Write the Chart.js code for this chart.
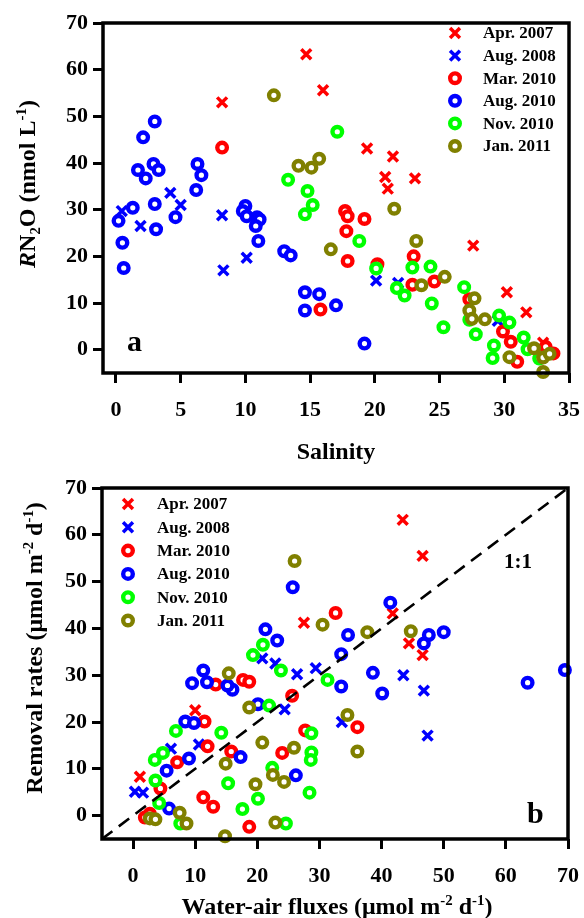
<!DOCTYPE html>
<html>
<head>
<meta charset="utf-8">
<script src="https://cdn.jsdelivr.net/npm/chart.js@4.4.0/dist/chart.umd.min.js"></script>
<style>
    body { margin: 0; background: #fff; }
    #wrap { position: relative; width: 584px; height: 918px; overflow: hidden; }
    canvas { position: absolute; left: 0; }
    #chartA { top: 0; }
    #chartB { top: 460px; }
</style>
</head>
<body>
<div id="wrap">
    <canvas id="chartA" width="584" height="475"></canvas>
    <canvas id="chartB" width="584" height="458"></canvas>
</div>
<script>
//Series

var seriesNames = ["Apr. 2007", "Aug. 2008", "Mar. 2010", "Aug. 2010", "Nov. 2010", "Jan. 2011"];
var seriesColors = ["#ff0000", "#0000ff", "#ff0000", "#0000ff", "#00ff00", "#808000"];
var seriesMarks = ["crossRot", "crossRot", "circle", "circle", "circle", "circle"];
var seriesOrder = [6, 5, 4, 3, 2, 1];

//Panel a: salinity vs RN2O

var apr07Sal = [8.2, 14.7, 16.0, 19.4, 21.4, 20.8, 21.0, 23.1, 27.6, 30.2, 31.7, 33.0];
var apr07RN2O = [53.0, 63.3, 55.6, 43.1, 41.4, 37.0, 34.5, 36.7, 22.3, 12.3, 8.0, 1.5];

var aug08Sal = [0.45, 1.9, 4.2, 5.0, 8.2, 8.3, 10.1, 20.1, 21.8, 29.5];
var aug08RN2O = [29.7, 26.5, 33.6, 31.0, 28.8, 17.0, 19.7, 14.8, 14.3, 6.2];

var mar10Sal = [8.2, 17.7, 17.9, 19.2, 17.8, 17.9, 15.8, 20.2, 23.0, 24.6, 22.9, 27.3, 29.9, 30.5, 31.0, 33.2, 33.8];
var mar10RN2O = [43.3, 29.7, 28.6, 28.0, 25.4, 19.0, 8.6, 18.3, 20.0, 14.6, 13.9, 10.8, 3.9, 1.7, -2.6, 0.6, -0.8];

var aug10Sal = [2.1, 3.0, 1.7, 2.3, 2.9, 3.3, 6.3, 6.6, 6.2, 3.0, 1.3, 4.6, 0.2, 0.5, 0.6, 3.1, 10.0, 9.8, 10.1, 10.9, 11.1, 10.8, 11.0, 13.0, 13.5, 14.6, 15.7, 14.6, 17.0, 19.2];
var aug10RN2O = [45.5, 48.9, 38.5, 36.7, 39.8, 38.5, 39.8, 37.4, 34.2, 31.2, 30.4, 28.4, 27.6, 22.9, 17.5, 25.8, 30.8, 29.7, 28.6, 28.4, 27.9, 26.5, 23.3, 21.1, 20.2, 12.3, 11.9, 8.4, 9.5, 1.3];

var nov10Sal = [17.1, 13.3, 14.8, 15.2, 14.6, 18.8, 20.1, 21.7, 22.3, 22.9, 24.3, 24.4, 25.3, 26.9, 27.8, 27.3, 29.6, 30.4, 29.2, 29.1, 31.5, 31.8, 32.7];
var nov10RN2O = [46.7, 36.4, 34.0, 31.0, 29.0, 23.3, 17.4, 13.2, 11.6, 17.6, 17.8, 9.9, 4.8, 13.4, 3.3, 6.4, 7.3, 5.8, 0.9, -1.8, 2.6, 0.1, -1.9];

var jan11Sal = [12.2, 14.1, 15.1, 15.7, 21.5, 16.6, 23.2, 23.6, 25.4, 27.7, 27.3, 27.5, 28.5, 30.4, 32.3, 33.0, 33.0, 33.5];
var jan11RN2O = [54.5, 39.4, 39.0, 40.9, 30.2, 21.5, 23.3, 13.8, 15.6, 11.0, 8.4, 6.6, 6.5, -1.6, 0.3, -1.7, -4.8, -0.9];

//Panel b: water-air fluxes vs removal rates

var apr07Flux = [43.4, 46.6, 27.5, 41.8, 44.4, 46.6, 10.0, 1.1];
var apr07Rem = [63.2, 55.5, 41.2, 43.2, 36.8, 34.3, 22.5, 8.3];

var aug08Flux = [0.3, 1.6, 6.1, 10.6, 20.8, 22.9, 26.4, 29.4, 24.4, 33.6, 43.5, 46.8, 47.4];
var aug08Rem = [5.1, 4.9, 14.3, 15.2, 33.6, 32.5, 30.2, 31.5, 22.7, 20.0, 30.0, 26.7, 17.1];

var mar10Flux = [32.6, 25.6, 36.1, 27.7, 24.0, 17.7, 18.7, 13.3, 11.5, 12.0, 7.1, 15.8, 11.3, 12.9, 18.7, 4.4, 1.9, 2.7];
var mar10Rem = [43.3, 25.6, 18.9, 18.2, 13.4, 29.0, 28.6, 28.0, 20.1, 14.8, 11.4, 13.7, 3.9, 1.9, -2.4, 5.8, -0.4, 0.4];

var aug10Flux = [25.7, 41.4, 34.6, 33.5, 47.6, 46.8, 50.0, 38.6, 69.5, 63.5, 21.3, 23.2, 33.5, 40.1, 11.3, 9.5, 11.9, 16.0, 15.2, 8.4, 9.8, 9.0, 5.4, 5.8, 17.3, 20.1, 26.2];
var aug10Rem = [48.8, 45.5, 38.6, 34.5, 38.6, 36.8, 39.2, 30.5, 31.1, 28.4, 39.8, 37.4, 27.6, 26.1, 31.0, 28.3, 28.5, 26.9, 27.8, 20.1, 19.8, 12.2, 9.6, 1.5, 12.5, 23.8, 8.6];

var nov10Flux = [20.9, 19.3, 23.8, 6.9, 14.2, 4.8, 3.5, 3.6, 4.2, 15.3, 20.1, 17.6, 22.4, 21.9, 7.6, 24.6, 28.7, 28.7, 28.6, 28.4, 31.3];
var nov10Rem = [36.5, 34.3, 31.0, 18.1, 17.7, 13.4, 11.9, 7.5, 2.7, 6.9, 3.6, 1.4, 10.2, 23.5, -1.7, -1.7, 17.6, 13.5, 11.9, 4.9, 29.0];

var jan11Flux = [26.0, 30.5, 37.7, 44.7, 15.4, 18.7, 20.8, 14.9, 19.7, 22.5, 7.5, 8.6, 2.7, 3.6, 14.8, 22.9, 34.5, 36.1, 25.9, 24.3];
var jan11Rem = [54.4, 40.8, 39.2, 39.4, 30.4, 23.1, 15.6, 11.1, 6.7, 8.7, 0.6, -1.7, -0.6, -0.8, -4.4, -1.5, 21.5, 13.7, 14.5, 7.2];

//1:1 reference line ends
var oneToOne = [-5, 70];

//Ticks
var salTicks = [0, 5, 10, 15, 20, 25, 30, 35];
var fluxTicks = [0, 10, 20, 30, 40, 50, 60, 70];
var rateTicks = [0, 10, 20, 30, 40, 50, 60, 70];

var serif = "'Liberation Serif', 'Times New Roman', serif";
var tickFont = { family: serif, size: 22, weight: "bold" };

function zip(xs, ys) {
    return xs.map(function(x, i) {
        return { x: x, y: ys[i] };
    });
}

function makeSets(xsList, ysList) {
    return seriesNames.map(function(name, i) {
        var isCross = seriesMarks[i] === "crossRot";
        return {
            type: "scatter",
            label: name,
            data: zip(xsList[i], ysList[i]),
            order: seriesOrder[i],
            pointStyle: seriesMarks[i],
            pointRadius: isCross ? 7 : 4.8,
            pointBorderWidth: isCross ? 3.5 : 4.4,
            borderColor: seriesColors[i],
            backgroundColor: isCross ? seriesColors[i] : "#ffffff",
            clip: 10
        };
    });
}

// little marker drawer for the legend
function drawMark(ctx, style, color, x, y) {
    ctx.save();
    ctx.strokeStyle = color;
    if (style === "crossRot") {
        var d = 7 * Math.SQRT1_2;
        ctx.lineWidth = 3.5;
        ctx.beginPath();
        ctx.moveTo(x - d, y - d); ctx.lineTo(x + d, y + d);
        ctx.moveTo(x - d, y + d); ctx.lineTo(x + d, y - d);
        ctx.stroke();
    } else {
        ctx.lineWidth = 4.4;
        ctx.fillStyle = "#fff";
        ctx.beginPath();
        ctx.arc(x, y, 4.8, 0, Math.PI * 2);
        ctx.fill();
        ctx.stroke();
    }
    ctx.restore();
}

// text with italic / sub / sup pieces, centred on x,y (baseline)
function drawRich(ctx, parts, x, y, size, rotate) {
    ctx.save();
    ctx.translate(x, y);
    if (rotate) ctx.rotate(-Math.PI / 2);
    ctx.fillStyle = "#000";
    ctx.textBaseline = "alphabetic";
    ctx.textAlign = "left";
    function fontOf(p) {
        var s = (p[1] === "sub" || p[1] === "sup") ? size * 0.62 : size;
        return (p[1] === "i" ? "italic " : "") + "bold " + s + "px " + serif;
    }
    var total = 0;
    parts.forEach(function(p) {
        ctx.font = fontOf(p);
        total += ctx.measureText(p[0]).width;
    });
    var cx = -total / 2;
    parts.forEach(function(p) {
        ctx.font = fontOf(p);
        var dy = p[1] === "sub" ? size * 0.22 : (p[1] === "sup" ? -size * 0.38 : 0);
        ctx.fillText(p[0], cx, dy);
        cx += ctx.measureText(p[0]).width;
    });
    ctx.restore();
}

function framePlugin(id) {
    return {
        id: id,
        afterDraw: function(chart) {
            var ctx = chart.ctx, a = chart.chartArea;
            ctx.save();
            ctx.strokeStyle = "#000";
            ctx.lineWidth = 3.5;
            ctx.strokeRect(a.left, a.top, a.right - a.left, a.bottom - a.top);
            ctx.restore();
        }
    };
}

function legendPlugin(id, markX, textX, y0, step) {
    return {
        id: id,
        afterDraw: function(chart) {
            var ctx = chart.ctx;
            seriesNames.forEach(function(name, i) {
                var y = y0 + i * step;
                drawMark(ctx, seriesMarks[i], seriesColors[i], markX, y);
                ctx.save();
                ctx.font = "bold 17px " + serif;
                ctx.fillStyle = "#000";
                ctx.textBaseline = "middle";
                ctx.fillText(name, textX, y + 1);
                ctx.restore();
            });
        }
    };
}

function scales(xMin, xMax, xTicks, yTicks, xHeight, yWidth) {
    var grid = {
        display: true,
        drawOnChartArea: false,
        drawTicks: true,
        tickLength: 10,
        tickWidth: 3,
        tickColor: "#000"
    };
    return {
        x: {
            type: "linear",
            position: "bottom",
            min: xMin,
            max: xMax,
            afterBuildTicks: function(s) { s.ticks = xTicks.map(function(v) { return { value: v }; }); },
            afterFit: function(s) {
                s.height = xHeight;
                s.paddingLeft = 0;
                s.paddingRight = 0;
            },
            ticks: { font: tickFont, color: "#000", padding: 14, maxRotation: 0, autoSkip: false },
            grid: grid,
            border: { display: false }
        },
        y: {
            type: "linear",
            position: "left",
            min: -5,
            max: 70,
            afterBuildTicks: function(s) { s.ticks = yTicks.map(function(v) { return { value: v }; }); },
            afterFit: function(s) {
                s.width = yWidth;
                s.paddingTop = 0;
                s.paddingBottom = 0;
            },
            ticks: { font: tickFont, color: "#000", padding: 5, autoSkip: false },
            grid: grid,
            border: { display: false }
        }
    };
}

//Panel a

var chartA = new Chart(document.getElementById("chartA"), {
    type: "scatter",
    data: {
        datasets: makeSets(
            [apr07Sal, aug08Sal, mar10Sal, aug10Sal, nov10Sal, jan11Sal],
            [apr07RN2O, aug08RN2O, mar10RN2O, aug10RN2O, nov10RN2O, jan11RN2O]
        )
    },
    options: {
        responsive: false,
        animation: false,
        events: [],
        layout: { padding: { top: 23, right: 15, left: 0, bottom: 0 } },
        plugins: { legend: { display: false }, tooltip: { enabled: false } },
        scales: scales(-1, 35, salTicks, rateTicks, 475 - 373, 103)
    },
    plugins: [
        framePlugin("frameA"),
        legendPlugin("legendA", 455, 483, 33, 22.6),
        {
            id: "textA",
            afterDraw: function(chart) {
                var ctx = chart.ctx;
                drawRich(ctx, [["Salinity", ""]], 336, 459, 24, false);
                drawRich(ctx, [["R", "i"], ["N", ""], ["2", "sub"], ["O (nmol L", ""], ["-1", "sup"], [")", ""]], 35, 184, 24, true);
                ctx.save();
                ctx.font = "bold 30px " + serif;
                ctx.fillStyle = "#000";
                ctx.fillText("a", 127, 351);
                ctx.restore();
            }
        }
    ]
});

//Panel b

var setsB = makeSets(
    [apr07Flux, aug08Flux, mar10Flux, aug10Flux, nov10Flux, jan11Flux],
    [apr07Rem, aug08Rem, mar10Rem, aug10Rem, nov10Rem, jan11Rem]
);
setsB.push({
    type: "line",
    label: "1:1",
    data: zip(oneToOne, oneToOne),
    order: 0,
    borderColor: "#000",
    borderWidth: 2.6,
    borderDash: [13, 8],
    pointRadius: 0,
    fill: false
});

var chartB = new Chart(document.getElementById("chartB"), {
    type: "scatter",
    data: { datasets: setsB },
    options: {
        responsive: false,
        animation: false,
        events: [],
        layout: { padding: { top: 28, right: 16, left: 0, bottom: 0 } },
        plugins: { legend: { display: false }, tooltip: { enabled: false } },
        scales: scales(-5, 70, fluxTicks, rateTicks, 458 - 379, 102)
    },
    plugins: [
        framePlugin("frameB"),
        legendPlugin("legendB", 128, 157, 44, 23.3),
        {
            id: "textB",
            afterDraw: function(chart) {
                var ctx = chart.ctx;
                drawRich(ctx, [["Water-air fluxes (\u03bcmol m", ""], ["-2", "sup"], [" d", ""], ["-1", "sup"], [")", ""]], 337, 454, 24, false);
                drawRich(ctx, [["Removal rates (\u03bcmol m", ""], ["-2", "sup"], [" d", ""], ["-1", "sup"], [")", ""]], 42, 188, 24, true);
                ctx.save();
                ctx.fillStyle = "#000";
                ctx.font = "bold 30px " + serif;
                ctx.fillText("b", 527, 363);
                ctx.font = "bold 21px " + serif;
                ctx.textAlign = "center";
                ctx.fillText("1:1", 518, 108);
                ctx.restore();
            }
        }
    ]
});
</script>
</body>
</html>
